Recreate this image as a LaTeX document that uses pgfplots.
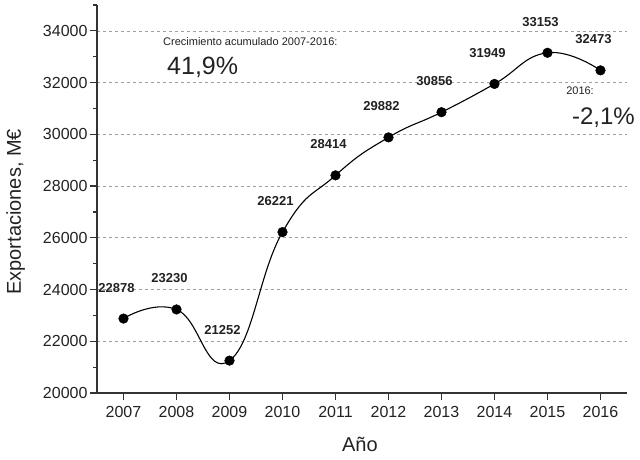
\documentclass[border=0pt]{standalone}
\usepackage{pgfplots}
\pgfplotsset{compat=1.18}
\usepackage{fontspec}
\setmainfont{Liberation Sans}
\definecolor{txt}{HTML}{222222}
\definecolor{axc}{HTML}{333333}
\begin{document}
\begin{tikzpicture}
\path[use as bounding box] (-97pt,-67pt) rectangle (543pt,393pt);
\begin{axis}[
  at={(0pt,0pt)}, anchor=south west,
  scale only axis, width=530pt, height=388pt,
  xmin=2006.5, xmax=2016.5, ymin=20000, ymax=35000,
  axis lines*=left,
  axis line style={draw=axc, line width=1.2pt, -},
  xtick={2007,2008,...,2016},
  ytick={20000,22000,...,34000},
  minor ytick={21000,23000,...,35000},
  tick align=outside, tick pos=left,
  major tick length=7pt, minor tick length=4pt,
  tick style={draw=axc, line width=1.2pt},
  ymajorgrids,
  grid style={draw=gray!75, line width=0.6pt, dash pattern=on 3pt off 3pt},
  scaled y ticks=false,
  /pgf/number format/1000 sep={},
  /pgf/number format/assume math mode=true,
  ticklabel style={font=\fontsize{16}{19}\selectfont, text=txt},
  xticklabel style={yshift=-3pt},
  yticklabel style={xshift=1pt},
  xlabel={Año}, ylabel={Exportaciones, M€},
  every axis x label/.style={at={(axis description cs:0.496,-0.152)}, anchor=base, font=\fontsize{20}{24}\selectfont, text=txt},
  every axis y label/.style={at={(axis description cs:-0.1434,0.467)}, rotate=90, anchor=base, font=\fontsize{20}{24}\selectfont, text=txt},
  clip=false,
]
\addplot[black, line width=1.1pt, smooth, tension=0.8,
  mark=*, mark size=4.8pt, mark options={fill=black, line width=0.5pt},
  nodes near coords,
  every node near coord/.append style={font=\fontsize{13}{15}\selectfont\bfseries, text=txt, anchor=center, xshift=-7pt, yshift=31pt, inner sep=0pt}]
coordinates {
(2007,22878) (2008,23230) (2009,21252) (2010,26221) (2011,28414)
(2012,29882) (2013,30856) (2014,31949) (2015,33153) (2016,32473)
};
\end{axis}
\node[anchor=base west, inner sep=0pt, text=txt, font=\fontsize{11}{13}\selectfont] at (66pt,347pt) {Crecimiento acumulado 2007-2016:};
\node[anchor=base west, inner sep=0pt, text=txt, font=\fontsize{25}{30}\selectfont] at (70pt,318pt) {41,9\%};
\node[anchor=base east, inner sep=0pt, text=txt, font=\fontsize{11}{13}\selectfont] at (497pt,298pt) {2016:};
\node[anchor=base east, inner sep=0pt, text=txt, font=\fontsize{24}{29}\selectfont] at (538pt,268pt) {-2,1\%};
\end{tikzpicture}
\end{document}
